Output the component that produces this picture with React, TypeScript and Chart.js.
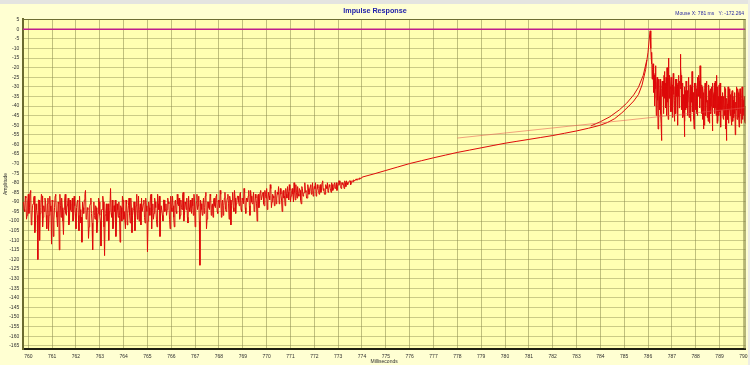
import React, { useEffect, useRef } from 'react';
import { Chart, registerables } from 'chart.js';

Chart.register(...registerables);

const TITLE = 'Impulse Response';
const MOUSE_READOUT = 'Mouse X: 781 ms   Y: -172.264';
const X_TITLE = 'Milliseconds';
const Y_TITLE = 'Amplitude';

const X_MIN = 759.765;
const X_MAX = 790.09;
const Y_MIN = -166.67;
const Y_MAX = 5.36;

const xTicks = [760, 761, 762, 763, 764, 765, 766, 767, 768, 769, 770, 771, 772, 773, 774, 775, 776, 777, 778, 779, 780, 781, 782, 783, 784, 785, 786, 787, 788, 789, 790];
const yTicks = [5, 0, -5, -10, -15, -20, -25, -30, -35, -40, -45, -50, -55, -60, -65, -70, -75, -80, -85, -90, -95, -100, -105, -110, -115, -120, -125, -130, -135, -140, -145, -150, -155, -160, -165];

// Noisy early part, uniformly sampled (two interleaved sample sets)
const leftStart = 759.8;
const leftStep = 0.05;
const leftValues = [
  -90, -95, -88, -97, -86, -93, -84, -99, -91, -87, -101, -94, -120, -89, -96, -86, -103, -92, -88, -97,
  -91, -105, -87, -95, -89, -108, -93, -86, -98, -90, -115, -92, -88, -100, -94, -86, -97, -91, -102, -89,
  -95, -88, -99, -92, -104, -90, -97, -87, -101, -111, -93, -89, -84, -98, -94, -103, -91, -96, -115, -90,
  -99, -93, -102, -88, -97, -113, -94, -90, -118, -96, -100, -91, -95, -83, -98, -104, -92, -89, -101, -94,
  -90, -111, -93, -87, -99, -95, -89, -102, -92, -97, -88, -106, -94, -90, -98, -86, -96, -100, -91, -88,
  -95, -89, -101, -92, -116, -90, -97, -86, -94, -99, -88, -93, -103, -91, -87, -96, -92, -100, -89, -94,
  -97, -88, -91, -104, -93, -87, -98, -90, -95, -86, -92, -99, -89, -94, -85, -97, -91, -88, -101, -93,
  -89, -96, -92, -86, -103, -90, -94, -87, -123, -91, -97, -88, -93, -85, -99, -90, -94, -87, -92, -98,
  -88, -93, -86, -96, -90, -84, -98, -89, -92, -85, -95, -88, -91, -87, -102, -89, -93, -84, -96, -90,
  -87, -92, -85, -95, -89, -83, -93, -88, -90, -84, -97, -87, -91, -85, -94, -88, -100, -86, -90, -84,
  -89, -85, -92, -86, -83, -90, -87, -81, -93, -86, -88, -84, -91, -85, -82, -89, -86, -95, -84, -87,
  -83, -88, -85, -81, -90, -84, -86, -80, -89, -85, -82, -87, -84, -91, -83, -86, -80, -85, -88, -83,
  -85, -81, -84, -87, -82, -80, -85, -83, -86, -81, -84, -79, -83, -86, -82, -80, -84, -82, -85, -81,
  -83, -80, -82, -84, -81, -79, -82, -80, -81, -83, -80, -79, -81, -80, -79, -80, -79, -78.5, -79, -78, -78.5, -78, -77.5, -77.8, -77.2,
];
const leftValuesB = [
  -94, -87, -99, -90, -96, -85, -102, -92, -88, -106, -91, -97, -89, -110, -93, -87, -98, -95, -90, -104,
  -88, -97, -92, -112, -90, -99, -87, -95, -103, -91, -86, -98, -93, -107, -89, -96, -92, -88, -100, -94,
  -91, -100, -87, -96, -93, -89, -105, -94, -98, -90, -96, -86, -99, -93, -109, -92, -88, -101, -95, -97,
  -92, -106, -96, -90, -100, -94, -87, -103, -97, -91, -99, -110, -93, -96, -89, -102, -95, -108, -91, -98,
  -97, -92, -100, -89, -95, -104, -91, -96, -88, -101, -93, -97, -90, -105, -92, -99, -87, -94, -102, -95,
  -91, -98, -88, -95, -100, -93, -87, -104, -91, -96, -90, -99, -86, -94, -108, -92, -97, -89, -95, -91,
  -94, -90, -99, -87, -95, -92, -103, -89, -96, -91, -88, -97, -93, -86, -100, -90, -94, -98, -87, -95,
  -93, -88, -97, -90, -95, -86, -92, -100, -89, -94, -91, -96, -87, -104, -90, -93, -86, -97, -91, -89,
  -92, -87, -95, -89, -93, -86, -91, -97, -88, -94, -90, -86, -99, -89, -92, -85, -95, -88, -91, -87,
  -90, -86, -94, -88, -91, -85, -96, -89, -87, -92, -84, -90, -88, -95, -86, -91, -87, -93, -85, -89,
  -86, -91, -84, -88, -94, -85, -89, -83, -90, -87, -92, -84, -88, -86, -91, -83, -89, -85, -88, -92,
  -86, -82, -89, -84, -87, -83, -90, -85, -81, -88, -86, -83, -89, -82, -87, -85, -84, -88, -81, -86,
  -82, -86, -80, -84, -83, -87, -81, -84, -82, -85, -80, -84, -86, -81, -83, -85, -81, -83, -80, -84,
  -81, -83, -80, -82, -79, -81, -83, -80, -81, -79, -82, -80, -80, -79, -81, -79, -79.5, -78.8, -78.4, -78.6, -77.9, -78.2, -77.6, -77.5, -77.0,
];

// Smooth rise to the main peak
const midTimes = [774.5, 775.0, 775.5, 776.0, 776.5, 777.0, 777.5, 778.0, 778.5, 779.0, 779.5, 780.0, 780.5, 781.0, 781.5, 782.0, 782.5, 783.0, 783.5, 784.0, 784.3, 784.6, 784.9, 785.2, 785.4, 785.6, 785.75, 785.9, 786.0, 786.06, 786.09];
const midValues = [-75.4, -73.6, -71.8, -70.0, -68.5, -67.0, -65.6, -64.2, -63.0, -61.8, -60.6, -59.4, -58.4, -57.4, -56.4, -55.4, -54.2, -53.0, -51.6, -50.0, -48.6, -46.6, -43.6, -40.0, -37.4, -34.0, -29.0, -21.0, -12.0, -4.0, -0.8];

// Noisy tail after the peak, uniformly sampled (two interleaved sample sets)
const rightStart = 786.11;
const rightStep = 0.025;
const rightValues = [
  -8, -15, -12, -22, -18, -30, -24, -36, -19, -28, -41, -25, -33, -47, -29, -38, -26, -44, -58, -31,
  -35, -27, -42, -22, -30, -38, -25, -45, -33, -28, -15, -36, -24, -40, -31, -43, -29, -37, -23, -34,
  -48, -30, -39, -26, -35, -44, -28, -33, -41, -27, -13, -24, -38, -31, -46, -34, -39, -56, -32, -42,
  -29, -37, -45, -33, -26, -40, -35, -48, -30, -38, -27, -43, -36, -52, -31, -39, -28, -44, -34, -25,
  -30, -24, -28, -19, -36, -41, -29, -47, -33, -38, -50, -31, -43, -35, -27, -46, -37, -42, -32, -49,
  -36, -44, -30, -39, -53, -34, -41, -28, -37, -31, -45, -24, -40, -48, -35, -29, -43, -38, -51, -36,
  -42, -33, -47, -38, -45, -31, -40, -58, -36, -44, -30, -49, -37, -42, -34, -46, -39, -32, -48, -41,
  -35, -44, -55, -38, -30, -47, -40, -33, -46, -37, -31, -43, -49, -36, -41, -34, -45, -39, -48, -42,
  -46,
];
const rightValuesB = [
  -10, -18, -26, -21, -33, -27, -40, -23, -31, -45, -28, -37, -52, -26, -35, -42, -30, -49, -38, -27,
  -31, -44, -24, -36, -28, -41, -33, -20, -38, -47, -27, -34, -30, -43, -25, -39, -46, -32, -29, -41,
  -37, -26, -44, -33, -29, -50, -35, -24, -39, -31, -20, -42, -34, -28, -45, -37, -30, -48, -36, -27,
  -41, -32, -38, -25, -46, -35, -29, -43, -37, -22, -40, -33, -47, -28, -36, -42, -31, -38, -45, -30,
  -35, -27, -41, -33, -23, -44, -36, -30, -52, -39, -34, -28, -45, -38, -32, -41, -48, -29, -37, -43,
  -31, -40, -35, -46, -28, -38, -33, -44, -27, -41, -36, -49, -30, -39, -45, -33, -28, -47, -35, -42,
  -38, -46, -35, -41, -30, -52, -44, -36, -39, -47, -34, -42, -31, -45, -38, -50, -33, -43, -37, -46,
  -40, -33, -48, -42, -36, -45, -31, -39, -51, -35, -44, -38, -42, -30, -47, -37, -43, -35, -49, -40,
  -44,
];

// Second trace hugging the knee
const twinTimes = [783.6, 784.0, 784.4, 784.8, 785.1, 785.4, 785.6, 785.8, 785.95];
const twinValues = [-50.4, -48.2, -45.6, -42.0, -38.6, -34.2, -30.2, -24.0, -16.0];

// Faint straight trend line
const trendTimes = [778.0, 790.09];
const trendValues = [-56.7, -40.8];

// Reference line at zero
const zeroTimes = [X_MIN, X_MAX];
const zeroValues = [0, 0];

const FONT = '"Liberation Sans", Arial, sans-serif';

function buildMain() {
  const pts: { x: number; y: number }[] = [];
  leftValues.forEach((v, i) => {
    pts.push({ x: leftStart + i * leftStep, y: v });
    pts.push({ x: leftStart + (i + 0.5) * leftStep, y: leftValuesB[i] });
  });
  midValues.forEach((v, i) => pts.push({ x: midTimes[i], y: v }));
  rightValues.forEach((v, i) => {
    pts.push({ x: rightStart + i * rightStep, y: v });
    pts.push({ x: rightStart + (i + 0.5) * rightStep, y: rightValuesB[i] });
  });
  return pts;
}

function pairs(ts: number[], vs: number[]) {
  return vs.map((v, i) => ({ x: ts[i], y: v }));
}

const decorPlugin = {
  id: 'decor',
  beforeDraw(chart: any) {
    const { ctx, chartArea: a, width, height } = chart;
    ctx.save();
    ctx.fillStyle = '#FFFFD2';
    ctx.fillRect(0, 0, width, height);
    ctx.fillStyle = '#E4E4E0';
    ctx.fillRect(0, 0, width, 4);
    ctx.fillStyle = '#ECECE6';
    ctx.fillRect(width - 2, 0, 2, height);
    ctx.fillStyle = '#FFFFB2';
    ctx.fillRect(a.left, a.top, a.right - a.left, a.bottom - a.top);
    ctx.restore();
  },
  afterDraw(chart: any) {
    const { ctx, chartArea: a } = chart;
    ctx.save();
    ctx.strokeStyle = '#6E6E34';
    ctx.lineWidth = 1;
    ctx.beginPath();
    ctx.moveTo(a.left, a.top + 0.5);
    ctx.lineTo(a.right, a.top + 0.5);
    ctx.moveTo(a.right - 0.5, a.top);
    ctx.lineTo(a.right - 0.5, a.bottom);
    ctx.stroke();

    ctx.fillStyle = '#2222AA';
    ctx.font = `bold 7.2px ${FONT}`;
    ctx.textAlign = 'center';
    ctx.textBaseline = 'middle';
    ctx.fillText(TITLE, 375, 11);

    ctx.fillStyle = '#2A2AA0';
    ctx.font = `5px ${FONT}`;
    ctx.textAlign = 'right';
    ctx.fillText(MOUSE_READOUT, 744, 14);

    ctx.fillStyle = '#303030';
    ctx.textAlign = 'center';
    ctx.fillText(X_TITLE, (a.left + a.right) / 2, 361.5);

    ctx.translate(6, (a.top + a.bottom) / 2);
    ctx.rotate(-Math.PI / 2);
    ctx.fillText(Y_TITLE, 0, 0);
    ctx.restore();
  },
};

export default function App() {
  const canvasRef = useRef<HTMLCanvasElement | null>(null);

  useEffect(() => {
    if (!canvasRef.current) return;
    const chart = new Chart(canvasRef.current, {
      type: 'line',
      data: {
        datasets: [
          {
            label: 'zero',
            data: pairs(zeroTimes, zeroValues),
            borderColor: '#C0208C',
            borderWidth: 1.5,
            pointRadius: 0,
          },
          {
            label: 'trend',
            data: pairs(trendTimes, trendValues),
            borderColor: 'rgba(230,90,80,0.7)',
            borderWidth: 0.8,
            pointRadius: 0,
          },
          {
            label: 'twin',
            data: pairs(twinTimes, twinValues),
            borderColor: '#D81010',
            borderWidth: 1,
            pointRadius: 0,
          },
          {
            label: 'impulse',
            data: buildMain(),
            borderColor: '#DD0A0A',
            borderWidth: 1,
            pointRadius: 0,
          },
        ],
      },
      options: {
        animation: false,
        responsive: true,
        maintainAspectRatio: false,
        devicePixelRatio: 1,
        parsing: false,
        layout: { padding: { top: 19, right: 4.5, left: 0, bottom: 0 } },
        plugins: {
          legend: { display: false },
          tooltip: { enabled: false },
          title: { display: false },
        },
        events: [],
        scales: {
          x: {
            type: 'linear',
            min: X_MIN,
            max: X_MAX,
            afterBuildTicks: (s: any) => {
              s.ticks = xTicks.map((v) => ({ value: v }));
            },
            afterFit: (s: any) => {
              s.height = 16;
              s.paddingLeft = 0;
              s.paddingRight = 0;
            },
            ticks: {
              autoSkip: false,
              maxRotation: 0,
              padding: 5,
              color: '#303030',
              font: { family: FONT, size: 5 },
              callback: (v: any) => String(Math.round(Number(v))),
            },
            grid: { color: 'rgba(140,140,80,0.55)', lineWidth: 1, drawTicks: false },
            border: { color: '#202010', width: 2 },
          },
          y: {
            type: 'linear',
            min: Y_MIN,
            max: Y_MAX,
            afterBuildTicks: (s: any) => {
              s.ticks = yTicks.map((v) => ({ value: v }));
            },
            afterFit: (s: any) => {
              s.width = 22.7;
              s.paddingTop = 0;
              s.paddingBottom = 0;
            },
            ticks: {
              autoSkip: false,
              padding: 3.5,
              color: '#303030',
              font: { family: FONT, size: 5 },
              callback: (v: any) => String(Math.round(Number(v))),
            },
            grid: { color: 'rgba(140,140,80,0.45)', lineWidth: 1, drawTicks: false },
            border: { color: '#6B6B2F', width: 2 },
          },
        },
      },
      plugins: [decorPlugin],
    });
    return () => chart.destroy();
  }, []);

  return (
    <div style={{ position: 'fixed', left: 0, top: 0, width: 750, height: 365 }}>
      <canvas ref={canvasRef} />
    </div>
  );
}
